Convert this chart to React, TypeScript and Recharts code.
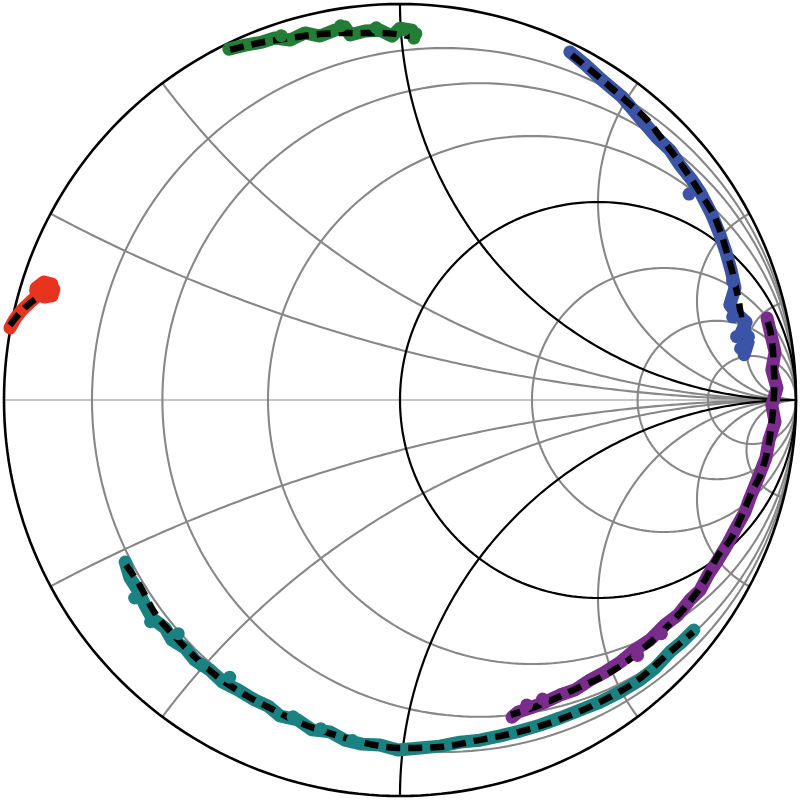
import React from 'react';
import { ComposedChart, Line, XAxis, YAxis } from 'recharts';

// Smith chart grid values
const resistanceValues = [0.125, 0.25, 0.5, 2, 4, 8];
const reactanceValues = [0.25, 0.5, 2, 4, 8];
const boldResistance = [0, 1];
const boldReactance = [1];

// Reflection coefficient data [Re, Im]
const redMeasured = [
  [-0.985, 0.182], [-0.972, 0.205], [-0.955, 0.227], [-0.934, 0.247], [-0.914, 0.265],
  [-0.894, 0.273], [-0.874, 0.28], [-0.879, 0.263], [-0.899, 0.26], [-0.919, 0.283],
  [-0.899, 0.298], [-0.879, 0.293], [-0.894, 0.28],
];
const redFit = [[-0.985, 0.189], [-0.96, 0.22], [-0.934, 0.245], [-0.909, 0.263]];

const greenMeasured = [
  [-0.432, 0.886], [-0.391, 0.896], [-0.348, 0.904], [-0.316, 0.914], [-0.278, 0.909],
  [-0.24, 0.927], [-0.202, 0.919], [-0.164, 0.934], [-0.139, 0.942], [-0.126, 0.922],
  [-0.088, 0.932], [-0.051, 0.934], [-0.02, 0.919], [0.0, 0.939], [0.03, 0.934], [0.035, 0.914],
];
const greenFit = [
  [-0.429, 0.884], [-0.354, 0.902], [-0.278, 0.914], [-0.202, 0.924], [-0.126, 0.927],
  [-0.051, 0.927], [0.025, 0.919],
];

const blueMeasured = [
  [0.429, 0.879], [0.467, 0.848], [0.51, 0.808], [0.561, 0.765], [0.606, 0.712],
  [0.649, 0.662], [0.682, 0.631], [0.707, 0.593], [0.737, 0.556], [0.758, 0.525],
  [0.788, 0.467], [0.808, 0.417], [0.823, 0.374], [0.836, 0.328], [0.846, 0.283],
  [0.833, 0.24], [0.854, 0.215], [0.874, 0.197], [0.859, 0.164], [0.879, 0.146], [0.869, 0.114],
];
const blueFit = [
  [0.434, 0.871], [0.505, 0.813], [0.568, 0.758], [0.624, 0.707], [0.669, 0.649],
  [0.715, 0.588], [0.758, 0.523], [0.801, 0.447], [0.826, 0.371], [0.846, 0.295],
  [0.859, 0.227], [0.866, 0.169], [0.871, 0.139],
];

const purpleMeasured = [
  [0.927, 0.207], [0.937, 0.164], [0.947, 0.121], [0.939, 0.076], [0.952, 0.03],
  [0.939, -0.013], [0.947, -0.056], [0.932, -0.101], [0.924, -0.146], [0.904, -0.197],
  [0.884, -0.247], [0.871, -0.283], [0.846, -0.328], [0.826, -0.366], [0.803, -0.404],
  [0.778, -0.442], [0.758, -0.48], [0.732, -0.505], [0.702, -0.543], [0.669, -0.568],
  [0.631, -0.606], [0.593, -0.631], [0.556, -0.662], [0.518, -0.687], [0.48, -0.707],
  [0.442, -0.732], [0.404, -0.745], [0.366, -0.763], [0.328, -0.778], [0.298, -0.788],
  [0.283, -0.801],
];
const purpleFit = [
  [0.929, 0.197], [0.942, 0.121], [0.947, 0.043], [0.942, -0.025], [0.934, -0.093],
  [0.917, -0.169], [0.891, -0.227], [0.866, -0.285], [0.838, -0.346], [0.801, -0.396],
  [0.77, -0.455], [0.72, -0.523], [0.639, -0.606], [0.54, -0.682], [0.439, -0.732],
  [0.341, -0.775], [0.28, -0.795],
];

const tealMeasured = [
  [-0.694, -0.409], [-0.682, -0.449], [-0.662, -0.48], [-0.644, -0.518], [-0.626, -0.551],
  [-0.593, -0.576], [-0.576, -0.606], [-0.543, -0.626], [-0.518, -0.657], [-0.48, -0.682],
  [-0.449, -0.712], [-0.409, -0.732], [-0.366, -0.758], [-0.333, -0.773], [-0.303, -0.798],
  [-0.258, -0.808], [-0.222, -0.833], [-0.177, -0.838], [-0.139, -0.859], [-0.096, -0.869],
  [-0.051, -0.871], [-0.005, -0.884], [0.051, -0.879], [0.101, -0.874], [0.152, -0.864],
  [0.202, -0.859], [0.253, -0.848], [0.303, -0.836], [0.354, -0.821], [0.404, -0.803],
  [0.455, -0.783], [0.505, -0.763], [0.556, -0.737], [0.606, -0.707], [0.644, -0.677],
  [0.682, -0.636], [0.712, -0.611], [0.742, -0.581],
];
const tealFit = [
  [-0.692, -0.417], [-0.662, -0.46], [-0.619, -0.538], [-0.568, -0.598], [-0.518, -0.649],
  [-0.467, -0.694], [-0.399, -0.74], [-0.328, -0.778], [-0.258, -0.813], [-0.179, -0.841],
  [-0.098, -0.864], [0.0, -0.879], [0.101, -0.876], [0.199, -0.859], [0.301, -0.838],
  [0.399, -0.808], [0.5, -0.765], [0.601, -0.707], [0.679, -0.639], [0.74, -0.586],
];

// extra scattered measurement points (bulges of the point clouds)
const redExtra = [[-0.905, 0.29], [-0.885, 0.288], [-0.92, 0.275]];
const greenExtra = [[-0.15, 0.945], [-0.06, 0.94], [0.01, 0.935], [0.04, 0.925], [-0.3, 0.92]];
const blueExtra = [[0.73, 0.52], [0.84, 0.3], [0.84, 0.21], [0.87, 0.18], [0.86, 0.13], [0.88, 0.16], [0.85, 0.16]];
const purpleExtra = [[0.32, -0.77], [0.36, -0.755], [0.6, -0.645], [0.66, -0.59]];
const tealExtra = [[-0.67, -0.5], [-0.63, -0.56], [-0.56, -0.59], [-0.5, -0.67], [-0.43, -0.7], [-0.27, -0.8], [-0.2, -0.83], [-0.12, -0.86]];

const seriesList = [
  { name: 'red', color: '#e8341f', measured: redMeasured, extra: redExtra, fit: redFit },
  { name: 'green', color: '#237d36', measured: greenMeasured, extra: greenExtra, fit: greenFit },
  { name: 'blue', color: '#3b54a6', measured: blueMeasured, extra: blueExtra, fit: blueFit },
  { name: 'purple', color: '#7a2c8c', measured: purpleMeasured, extra: purpleExtra, fit: purpleFit },
  { name: 'teal', color: '#1b8282', measured: tealMeasured, extra: tealExtra, fit: tealFit },
];

const toPts = (arr: number[][]) => arr.map(([x, y]) => ({ x, y }));

function resistanceCircle(r: number) {
  const c = r / (1 + r);
  const rad = 1 / (1 + r);
  const pts: { x: number; y: number }[] = [];
  for (let i = 0; i <= 240; i++) {
    const a = (i / 240) * Math.PI * 2;
    pts.push({ x: c + rad * Math.cos(a), y: rad * Math.sin(a) });
  }
  return pts;
}

function reactanceArc(xv: number) {
  const s = xv < 0 ? -1 : 1;
  const x = Math.abs(xv);
  const cy = 1 / x;
  const rad = 1 / x;
  const gr = (x * x - 1) / (x * x + 1);
  const gi = (2 * x) / (x * x + 1);
  let a0 = Math.atan2(gi - cy, gr - 1);
  if (a0 < 0) a0 += Math.PI * 2;
  const a1 = Math.PI * 1.5;
  const pts: { x: number; y: number }[] = [];
  const n = 150;
  for (let i = 0; i <= n; i++) {
    const a = a0 + ((a1 - a0) * i) / n;
    pts.push({ x: 1 + rad * Math.cos(a), y: s * (cy + rad * Math.sin(a)) });
  }
  return pts;
}

const axisLine = [{ x: -1, y: 0 }, { x: 1, y: 0 }];
const D = 400 / 396;

export default function App() {
  const grayLines: { key: string; data: { x: number; y: number }[] }[] = [];
  resistanceValues.forEach((r) => grayLines.push({ key: 'r' + r, data: resistanceCircle(r) }));
  reactanceValues.forEach((x) => {
    grayLines.push({ key: 'xp' + x, data: reactanceArc(x) });
    grayLines.push({ key: 'xn' + x, data: reactanceArc(-x) });
  });
  const blackLines: { key: string; data: { x: number; y: number }[]; w: number }[] = [];
  boldResistance.forEach((r) => blackLines.push({ key: 'br' + r, data: resistanceCircle(r), w: r === 0 ? 2.6 : 2.2 }));
  boldReactance.forEach((x) => {
    blackLines.push({ key: 'bxp' + x, data: reactanceArc(x), w: 2.2 });
    blackLines.push({ key: 'bxn' + x, data: reactanceArc(-x), w: 2.2 });
  });

  return (
    <div style={{ position: 'absolute', left: 0, top: 0, width: 800, height: 800, background: '#fff' }}>
      <ComposedChart width={800} height={800} margin={{ top: 0, right: 0, bottom: 0, left: 0 }}>
        <XAxis type="number" dataKey="x" domain={[-D, D]} allowDataOverflow hide />
        <YAxis type="number" dataKey="y" domain={[-D, D]} allowDataOverflow hide />
        <Line
          data={axisLine}
          dataKey="y"
          type="linear"
          stroke="#b0b0b0"
          strokeWidth={1.6}
          dot={false}
          activeDot={false}
          isAnimationActive={false}
        />
        {grayLines.map((g) => (
          <Line
            key={g.key}
            data={g.data}
            dataKey="y"
            type="linear"
            stroke="#878787"
            strokeWidth={2.1}
            dot={false}
            activeDot={false}
            isAnimationActive={false}
          />
        ))}
        {blackLines.map((g) => (
          <Line
            key={g.key}
            data={g.data}
            dataKey="y"
            type="linear"
            stroke="#000000"
            strokeWidth={g.w}
            dot={false}
            activeDot={false}
            isAnimationActive={false}
          />
        ))}
        {seriesList.map((s) => (
          <Line
            key={s.name + '-m'}
            data={toPts(s.measured)}
            dataKey="y"
            type="linear"
            stroke={s.color}
            strokeWidth={13}
            strokeLinecap="round"
            strokeLinejoin="round"
            dot={false}
            activeDot={false}
            isAnimationActive={false}
          />
        ))}
        {seriesList.map((s) => (
          <Line
            key={s.name + '-x'}
            data={toPts(s.extra)}
            dataKey="y"
            type="linear"
            stroke="none"
            strokeWidth={0}
            dot={{ r: 6.5, fill: s.color, stroke: 'none' }}
            activeDot={false}
            isAnimationActive={false}
          />
        ))}
        {seriesList.map((s) => (
          <Line
            key={s.name + '-f'}
            data={toPts(s.fit)}
            dataKey="y"
            type="monotone"
            stroke="#000000"
            strokeWidth={6.5}
            strokeDasharray="14 8"
            dot={false}
            activeDot={false}
            isAnimationActive={false}
          />
        ))}
      </ComposedChart>
    </div>
  );
}
